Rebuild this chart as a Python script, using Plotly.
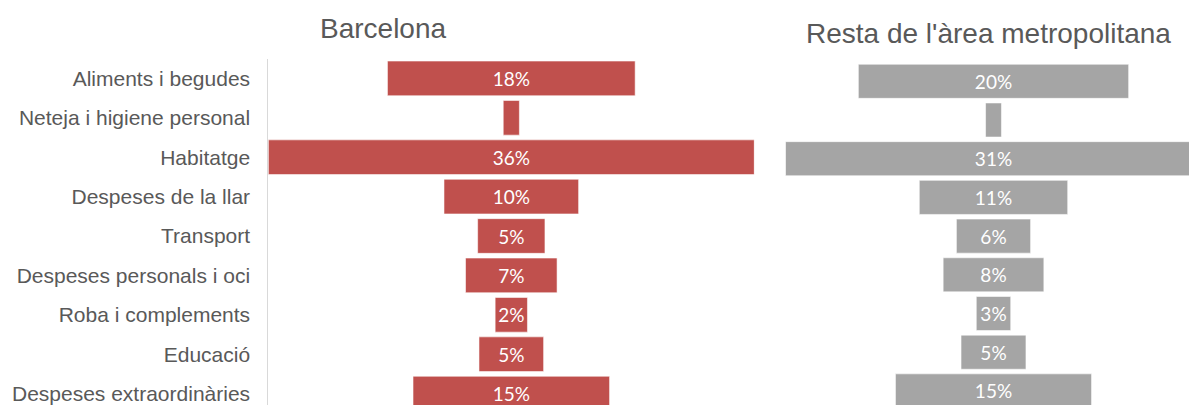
import plotly.graph_objects as go

W, H = 1189, 405

categories = [
    "Aliments i begudes",
    "Neteja i higiene personal",
    "Habitatge",
    "Despeses de la llar",
    "Transport",
    "Despeses personals i oci",
    "Roba i complements",
    "Educació",
    "Despeses extraordinàries",
]

barcelona = [18.4, 1.2, 36.1, 10.0, 5.0, 6.8, 2.4, 4.8, 14.6]
resta_amb = [20.4, 1.2, 31.4, 11.2, 5.6, 7.6, 2.6, 4.9, 14.8]

titles = ["Barcelona", "Resta de l'àrea metropolitana"]

RED = "#C0504D"
GREY = "#A5A5A5"
TXT = "#595959"


def labels(vals):
    return [f"{round(v)}%" if v >= 2 else "" for v in vals]


fig = go.Figure()

for vals, color, xa, ya in [(barcelona, RED, "x", "y"), (resta_amb, GREY, "x2", "y2")]:
    fig.add_trace(go.Bar(
        y=categories,
        x=vals,
        base=[-v / 2 for v in vals],
        orientation="h",
        marker=dict(color=color, line=dict(color="rgba(255,255,255,0.55)", width=1)),
        text=labels(vals),
        textposition="inside",
        insidetextanchor="middle",
        textangle=0,
        constraintext="none",
        insidetextfont=dict(family="Lato", size=19, color="#ffffff"),
        xaxis=xa,
        yaxis=ya,
        hoverinfo="skip",
        showlegend=False,
    ))

# left panel geometry
l_left, l_right = 268.3, 754.3
l_top = 58.7
l_pitch = 39.4
l_ymax = (H - l_top) / l_pitch - 0.5

# right panel geometry
r_center, r_scale = 993.5, 13.25
r_left = r_center - max(resta_amb) / 2 * r_scale
r_top = 61.95
r_pitch = 38.7
r_ymax = (H - r_top) / r_pitch - 0.5

hidden_x = dict(showgrid=False, zeroline=False, showticklabels=False, showline=False,
                ticks="", automargin=False, fixedrange=True)

fig.update_layout(
    width=W, height=H,
    template="none",
    margin=dict(l=0, r=0, t=0, b=0, pad=0),
    paper_bgcolor="white",
    plot_bgcolor="white",
    bargap=0.12,
    font=dict(family="Liberation Sans, Arial, sans-serif", color=TXT),
    xaxis=dict(domain=[l_left / W, l_right / W], anchor="y",
               range=[-max(barcelona) / 2, max(barcelona) / 2], **hidden_x),
    yaxis=dict(domain=[0, 1 - l_top / H], anchor="x", type="category",
               categoryorder="array", categoryarray=categories,
               range=[l_ymax, -0.5],
               showgrid=False, zeroline=False, showline=True,
               linecolor="#d9d9d9", linewidth=1, ticks="",
               ticklabelstandoff=13, automargin=False,
               tickfont=dict(family="Liberation Sans, Arial, sans-serif", size=21, color=TXT)),
    xaxis2=dict(domain=[r_left / W, 1], anchor="y2",
                range=[-max(resta_amb) / 2, (W - r_center) / r_scale], **hidden_x),
    yaxis2=dict(domain=[0, 1 - r_top / H], anchor="x2", type="category",
                categoryorder="array", categoryarray=categories,
                range=[r_ymax, -0.5],
                showgrid=False, zeroline=False, showline=False, ticks="",
                showticklabels=False, automargin=False),
    annotations=[
        dict(text=titles[0], x=383 / W, y=1 - 28.7 / H, xref="paper", yref="paper",
             xanchor="center", yanchor="middle", showarrow=False,
             font=dict(family="Liberation Sans, Arial, sans-serif", size=28, color=TXT)),
        dict(text=titles[1], x=988 / W, y=1 - 34 / H, xref="paper", yref="paper",
             xanchor="center", yanchor="middle", showarrow=False,
             font=dict(family="Liberation Sans, Arial, sans-serif", size=28, color=TXT)),
    ],
)

fig.write_html(
    "out.html",
    config={"displayModeBar": False},
    post_script="document.body.style.margin='0';document.body.style.overflow='hidden';",
)
